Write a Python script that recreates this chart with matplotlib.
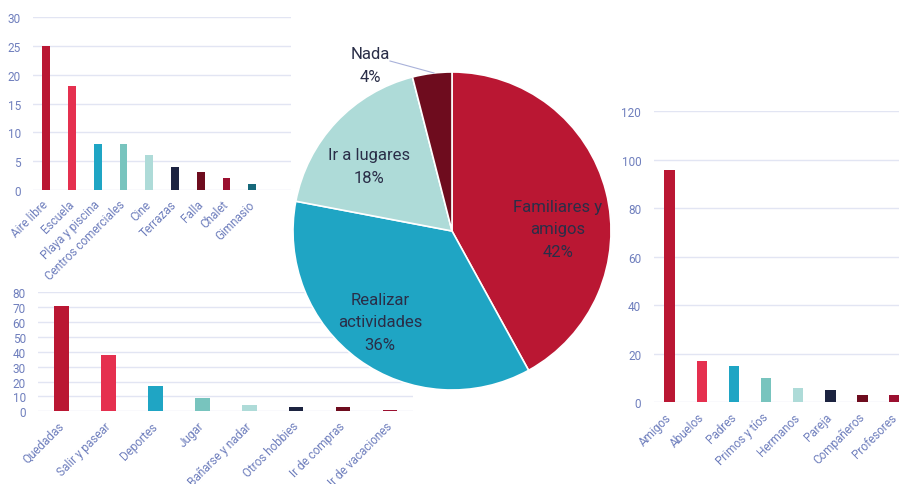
import numpy as np
import matplotlib
matplotlib.use('Agg')
from matplotlib import pyplot as plt

plt.rcParams['font.family'] = ['Roboto', 'DejaVu Sans']

# top-left: places
lugares = ['Aire libre', 'Escuela', 'Playa y piscina', 'Centros comerciales', 'Cine',
           'Terrazas', 'Falla', 'Chalet', 'Gimnasio']
lugares_val = [25, 18, 8, 8, 6, 4, 3, 2, 1]

# bottom-left: activities
activ = ['Quedadas', 'Salir y pasear', 'Deportes', 'Jugar', 'Bañarse y nadar',
         'Otros hobbies', 'Ir de compras', 'Ir de vacaciones']
activ_val = [71, 38, 17, 9, 4, 3, 3, 1]

# right: people
gente = ['Amigos', 'Abuelos', 'Padres', 'Primos y tíos', 'Hermanos', 'Pareja',
         'Compañeros', 'Profesores']
gente_val = [96, 17, 15, 10, 6, 5, 3, 3]

# pie
pie_labels = ['Familiares y\namigos', 'Realizar\nactividades', 'Ir a lugares', 'Nada']
pie_val = [42, 36, 18, 4]

bar_colors = ['#BA1733', '#E5304F', '#1FA5C4', '#78C4BE', '#AEDBD8',
              '#1C2340', '#6E0C1E', '#9B1030', '#16687A']
pie_colors = ['#BA1733', '#1FA5C4', '#AEDBD8', '#6E0C1E']
tick_col = '#6F7FBD'
grid_col = '#E2E5F3'
text_col = '#2A2E48'

W, H = 899, 485
fig = plt.figure(figsize=(W / 100, H / 100), dpi=100)


def px_axes(x0, y0, x1, y1):
    # pixel box (top-left origin) -> figure axes
    return fig.add_axes([x0 / W, 1 - y1 / H, (x1 - x0) / W, (y1 - y0) / H])


def bar_chart(ax, cats, vals, width, ylim, yticks, xlim):
    x = np.arange(len(cats))
    ax.bar(x, vals, width=width, color=bar_colors[:len(cats)], zorder=2)
    ax.set_ylim(*ylim)
    ax.set_yticks(yticks)
    ax.set_xlim(*xlim)
    ax.set_xticks(x)
    ax.set_xticklabels(cats, rotation=45, ha='right', va='center',
                       rotation_mode='anchor')
    ax.tick_params(length=0, labelsize=8.5, labelcolor=tick_col)
    ax.tick_params(axis='y', pad=9)
    ax.tick_params(axis='x', pad=9)
    ax.grid(axis='y', color=grid_col, lw=1, zorder=0)
    for s in ax.spines.values():
        s.set_visible(False)
    ax.patch.set_alpha(0)


ax1 = px_axes(33.3, 18.3, 291, 190.7)
bar_chart(ax1, lugares, lugares_val, 0.3, (0, 30), range(0, 31, 5), (-0.5, 9.5))

ax2 = px_axes(38.2, 293.3, 413.4, 412.3)
bar_chart(ax2, activ, activ_val, 0.31, (0, 80), range(0, 81, 10), (-0.5, 7.5))

ax3 = px_axes(653.7, 112.3, 899, 403.3)
bar_chart(ax3, gente, gente_val, 0.33, (0, 120), range(0, 121, 20), (-0.5, 7.14))

# pie
axp = px_axes(452 - 159, 232 - 159, 452 + 159, 232 + 159)
axp.pie(pie_val, colors=pie_colors, startangle=90, counterclock=False,
        wedgeprops=dict(edgecolor='white', linewidth=1.2))
axp.set_xlim(-1, 1)
axp.set_ylim(-1, 1)
axp.set_zorder(5)

lbl_pos = [(0.667, 0.013), (-0.453, -0.572), (-0.522, 0.409), (-0.516, 1.044)]
for name, v, (lx, ly) in zip(pie_labels, pie_val, lbl_pos):
    axp.text(lx, ly, f'{name}\n{v}%', ha='center', va='center', fontsize=12,
             color=text_col, linespacing=1.65, clip_on=False)
# leader line for "Nada"
axp.plot([(390 - 452) / 159, (434 - 452) / 159], [(232 - 62) / 159, (232 - 74) / 159],
         color='#A9B2DA', lw=0.8, clip_on=False)

fig.savefig('out.png', dpi=100)
